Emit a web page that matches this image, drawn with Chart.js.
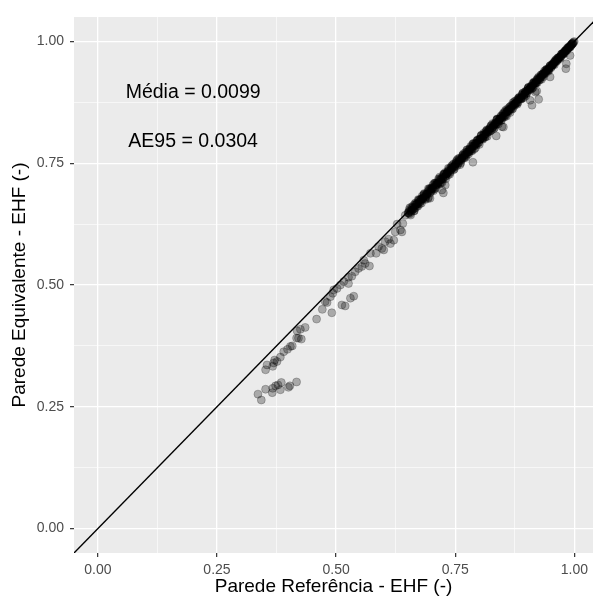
<!DOCTYPE html>
<html>
<head>
<meta charset="utf-8">
<script src="https://cdn.jsdelivr.net/npm/chart.js@4.4.1/dist/chart.umd.min.js"></script>
<style>
  html, body { margin: 0; padding: 0; background: #ffffff; overflow: hidden; }
  #wrap { width: 593px; height: 601px; }
</style>
</head>
<body>
<div id="wrap"><canvas id="c" width="593" height="601"></canvas></div>
<script>
// ---- Data ----
const lowRef = [0.336,0.343,0.352,0.366,0.367,0.373,0.378,0.383,0.385,0.400,0.403,0.417];
const lowEq  = [0.276,0.264,0.286,0.279,0.288,0.293,0.295,0.285,0.300,0.290,0.293,0.301];

const upperRef = [0.352,0.355,0.367,0.369,0.371,0.376,0.383,0.390,0.398,0.404,0.408,0.417,0.421,0.427,0.418,0.425];
const upperEq  = [0.326,0.336,0.333,0.340,0.346,0.343,0.352,0.363,0.368,0.374,0.375,0.391,0.391,0.389,0.406,0.409];

const midRef = [0.435,0.459,0.471,0.477,0.481,0.491,0.488,0.493,0.495,0.502,
                0.512,0.519,0.530,0.537,0.509,0.516,0.526,0.526,0.533,0.540,
                0.547,0.554,0.558,0.561,0.570,0.572,0.584,0.589,0.596,0.600,
                0.603,0.610,0.614,0.621,0.624,0.635,0.638,0.628,0.640,0.645,
                0.652];
const midEq  = [0.413,0.430,0.450,0.466,0.464,0.443,0.476,0.483,0.490,0.493,
                0.459,0.457,0.473,0.477,0.500,0.507,0.503,0.516,0.518,0.527,
                0.534,0.538,0.551,0.544,0.539,0.565,0.565,0.579,0.575,0.572,
                0.589,0.594,0.585,0.592,0.609,0.613,0.609,0.625,0.626,0.643,
                0.647];

const band1Ref = [0.652,0.655,0.658,0.661,0.664,0.667,0.670,0.673,0.676,0.679,
                  0.682,0.685,0.688,0.691,0.694,0.697,0.700,0.703,0.706,0.709,
                  0.712,0.715,0.718,0.721,0.724,0.727,0.730,0.733,0.736,0.739,
                  0.742,0.745,0.748,0.751,0.754,0.757,0.760,0.763,0.766,0.769,
                  0.772,0.775,0.778,0.781,0.784,0.787,0.790,0.793,0.796,0.799,
                  0.802,0.805,0.808,0.811,0.814,0.817,0.820,0.823,0.826,0.829,
                  0.832,0.835,0.838,0.841,0.844,0.847,0.850,0.853,0.856,0.859,
                  0.862,0.865,0.868,0.871,0.874,0.877,0.880,0.883,0.886,0.889,
                  0.892,0.895,0.898,0.901,0.904,0.907,0.910,0.913,0.916,0.919,
                  0.922,0.925,0.928,0.931,0.934,0.937,0.940,0.943,0.946,0.949,
                  0.952,0.955,0.958,0.961,0.964,0.967,0.970,0.973,0.976,0.979,
                  0.982,0.985,0.988,0.991,0.994,0.996,0.998];
const band1Eq  = [0.648,0.646,0.660,0.655,0.652,0.665,0.662,0.674,0.671,0.668,
                  0.679,0.688,0.681,0.687,0.680,0.696,0.694,0.705,0.697,0.706,
                  0.707,0.718,0.708,0.719,0.717,0.728,0.718,0.729,0.735,0.731,
                  0.744,0.740,0.738,0.749,0.757,0.751,0.747,0.760,0.767,0.761,
                  0.768,0.777,0.769,0.779,0.778,0.790,0.779,0.789,0.796,0.792,
                  0.799,0.807,0.799,0.806,0.815,0.805,0.817,0.816,0.828,0.824,
                  0.822,0.833,0.841,0.835,0.841,0.838,0.851,0.849,0.848,0.861,
                  0.857,0.854,0.866,0.874,0.868,0.874,0.871,0.884,0.882,0.882,
                  0.894,0.890,0.888,0.899,0.906,0.901,0.907,0.905,0.917,0.915,
                  0.915,0.927,0.925,0.922,0.933,0.939,0.935,0.941,0.939,0.950,
                  0.948,0.953,0.952,0.962,0.961,0.966,0.965,0.974,0.974,0.975,
                  0.982,0.983,0.987,0.988,0.994,0.995,0.998];

const band2Ref = [0.6535,0.6565,0.6595,0.6625,0.6655,0.6685,0.6715,0.6745,0.6775,0.6805,
                  0.6835,0.6865,0.6895,0.6925,0.6955,0.6985,0.7015,0.7045,0.7075,0.7105,
                  0.7135,0.7165,0.7195,0.7225,0.7255,0.7285,0.7315,0.7345,0.7375,0.7405,
                  0.7435,0.7465,0.7495,0.7525,0.7555,0.7585,0.7615,0.7645,0.7675,0.7705,
                  0.7735,0.7765,0.7795,0.7825,0.7855,0.7885,0.7915,0.7945,0.7975,0.8005,
                  0.8035,0.8065,0.8095,0.8125,0.8155,0.8185,0.8215,0.8245,0.8275,0.8305,
                  0.8335,0.8365,0.8395,0.8425,0.8455,0.8485,0.8515,0.8545,0.8575,0.8605,
                  0.8635,0.8665,0.8695,0.8725,0.8755,0.8785,0.8815,0.8845,0.8875,0.8905,
                  0.8935,0.8965,0.8995,0.9025,0.9055,0.9085,0.9115,0.9145,0.9175,0.9205,
                  0.9235,0.9265,0.9295,0.9325,0.9355,0.9385,0.9415,0.9445,0.9475,0.9505,
                  0.9535,0.9565,0.9595,0.9625,0.9655,0.9685,0.9715,0.9745,0.9775,0.9805,
                  0.9835,0.9865,0.9895,0.9925,0.9955];
const band2Eq  = [0.6515,0.6435,0.6545,0.6635,0.6575,0.6655,0.6615,0.6735,0.6715,0.6825,
                  0.6795,0.6775,0.6875,0.6775,0.6965,0.6915,0.6985,0.6935,0.7095,0.7055,
                  0.7055,0.7155,0.7155,0.7105,0.7275,0.7225,0.7285,0.7255,0.7385,0.7355,
                  0.7415,0.7365,0.7455,0.7545,0.7485,0.7575,0.7505,0.7595,0.7695,0.7675,
                  0.7655,0.7745,0.7735,0.7845,0.7755,0.7845,0.7905,0.7875,0.7985,0.7885,
                  0.8005,0.8005,0.8115,0.8035,0.8115,0.8175,0.8145,0.8265,0.8225,0.8205,
                  0.8315,0.8305,0.8405,0.8385,0.8375,0.8465,0.8535,0.8485,0.8465,0.8575,
                  0.8645,0.8615,0.8615,0.8705,0.8775,0.8745,0.8745,0.8835,0.8825,0.8915,
                  0.8845,0.8935,0.8935,0.9035,0.9015,0.9065,0.9045,0.9155,0.9145,0.9155,
                  0.9225,0.9205,0.9305,0.9295,0.9275,0.9365,0.9425,0.9405,0.9455,0.9455,
                  0.9535,0.9535,0.9585,0.9585,0.9665,0.9665,0.9685,0.9745,0.9755,0.9795,
                  0.9805,0.9865,0.9885,0.9905,0.9955];

const band3Ref = [0.6545,0.6575,0.6605,0.6635,0.6665,0.6695,0.6725,0.6755,0.6785,0.6815,
                  0.6845,0.6875,0.6905,0.6935,0.6965,0.6995,0.7025,0.7055,0.7085,0.7115,
                  0.7145,0.7175,0.7205,0.7235,0.7265,0.7295,0.7325,0.7355,0.7385,0.7415,
                  0.7445,0.7475,0.7505,0.7535,0.7565,0.7595,0.7625,0.7655,0.7685,0.7715,
                  0.7745,0.7775,0.7805,0.7835,0.7865,0.7895,0.7925,0.7955,0.7985,0.8015,
                  0.8045,0.8075,0.8105,0.8135,0.8165,0.8195,0.8225,0.8255,0.8285,0.8315,
                  0.8345,0.8375,0.8405,0.8435,0.8465,0.8495,0.8525,0.8555,0.8585,0.8615,
                  0.8645,0.8675,0.8705,0.8735,0.8765,0.8795,0.8825,0.8855,0.8885,0.8915,
                  0.8945,0.8975,0.9005,0.9035,0.9065,0.9095,0.9125,0.9155,0.9185,0.9215,
                  0.9245,0.9275,0.9305,0.9335,0.9365,0.9395,0.9425,0.9455,0.9485,0.9515,
                  0.9545,0.9575,0.9605,0.9635,0.9665,0.9695,0.9725,0.9755,0.9785,0.9815,
                  0.9845,0.9875,0.9905,0.9935,0.9965,0.9995];
const band3Eq  = [0.6585,0.6505,0.6585,0.6525,0.6675,0.6645,0.6755,0.6665,0.6755,0.6755,
                  0.6865,0.6755,0.6865,0.6975,0.6885,0.6985,0.6965,0.7085,0.6985,0.7095,
                  0.7095,0.7215,0.7115,0.7205,0.7275,0.7225,0.7305,0.7395,0.7275,0.7375,
                  0.7465,0.7415,0.7495,0.7445,0.7595,0.7555,0.7555,0.7665,0.7655,0.7615,
                  0.7775,0.7725,0.7785,0.7755,0.7885,0.7855,0.7815,0.7965,0.7925,0.7985,
                  0.8075,0.8005,0.8085,0.8045,0.8185,0.8145,0.8215,0.8175,0.8315,0.8275,
                  0.8285,0.8395,0.8305,0.8405,0.8475,0.8445,0.8445,0.8585,0.8565,0.8555,
                  0.8655,0.8635,0.8615,0.8755,0.8735,0.8735,0.8835,0.8835,0.8815,0.8935,
                  0.8905,0.8965,0.8945,0.9055,0.9035,0.9015,0.9135,0.9135,0.9135,0.9225,
                  0.9215,0.9215,0.9315,0.9315,0.9325,0.9405,0.9415,0.9405,0.9495,0.9495,
                  0.9515,0.9575,0.9585,0.9645,0.9635,0.9685,0.9735,0.9735,0.9785,0.9805,
                  0.9855,0.9865,0.9905,0.9925,0.9965,0.9995];

const band4Ref = [0.651,0.654,0.657,0.660,0.663,0.666,0.669,0.672,0.675,0.678,
                  0.681,0.684,0.687,0.690,0.693,0.696,0.699,0.702,0.705,0.708,
                  0.711,0.714,0.717,0.720,0.723,0.726,0.729,0.732,0.735,0.738,
                  0.741,0.744,0.747,0.750,0.753,0.756,0.759,0.762,0.765,0.768,
                  0.771,0.774,0.777,0.780,0.783,0.786,0.789,0.792,0.795,0.798,
                  0.801,0.804,0.807,0.810,0.813,0.816,0.819,0.822,0.825,0.828,
                  0.831,0.834,0.837,0.840,0.843,0.846,0.849,0.852,0.855,0.858,
                  0.861,0.864,0.867,0.870,0.873,0.876,0.879,0.882,0.885,0.888,
                  0.891,0.894,0.897,0.900,0.903,0.906,0.909,0.912,0.915,0.918,
                  0.921,0.924,0.927,0.930,0.933,0.936,0.939,0.942,0.945,0.948,
                  0.951,0.954,0.957,0.960,0.963,0.966,0.969,0.972,0.975,0.978,
                  0.981,0.984,0.987,0.990,0.993,0.996];
const band4Eq  = [0.649,0.655,0.653,0.659,0.657,0.668,0.666,0.667,0.675,0.676,
                  0.677,0.685,0.684,0.684,0.692,0.698,0.695,0.700,0.700,0.709,
                  0.709,0.710,0.718,0.717,0.717,0.725,0.731,0.728,0.733,0.733,
                  0.741,0.741,0.749,0.745,0.752,0.753,0.760,0.758,0.763,0.762,
                  0.772,0.772,0.773,0.780,0.778,0.785,0.791,0.789,0.791,0.797,
                  0.799,0.806,0.802,0.809,0.810,0.817,0.815,0.820,0.825,0.823,
                  0.830,0.831,0.839,0.836,0.841,0.846,0.844,0.851,0.856,0.855,
                  0.859,0.860,0.868,0.869,0.870,0.871,0.879,0.880,0.886,0.884,
                  0.890,0.891,0.897,0.898,0.904,0.902,0.908,0.910,0.915,0.915,
                  0.920,0.925,0.925,0.927,0.933,0.935,0.937,0.943,0.942,0.947,
                  0.951,0.952,0.956,0.961,0.961,0.966,0.968,0.970,0.975,0.977,
                  0.981,0.983,0.988,0.989,0.993,0.995];

const outRef = [0.697,0.722,0.725,0.729,0.787,0.836,0.848,0.851,0.907,0.911,0.918,0.921,0.925,0.949,0.982,0.983,0.991];
const outEq  = [0.678,0.695,0.689,0.705,0.752,0.806,0.825,0.824,0.879,0.869,0.896,0.898,0.881,0.927,0.944,0.954,0.971];

// Identity reference line (y = x) spanning the axis range
const identityRange = [-0.05, 1.05];

// Axis ticks
const majorTicks = [0, 0.25, 0.5, 0.75, 1.0];
const majorTickLabels = ['0.00', '0.25', '0.50', '0.75', '1.00'];
const minorTicks = [0.125, 0.375, 0.625, 0.875];

// Text
const xTitle = 'Parede Referência - EHF (-)';
const yTitle = 'Parede Equivalente - EHF (-)';
const annotationTexts = ['Média = 0.0099', 'AE95 = 0.0304'];
const annotationX = [0.2, 0.2];
const annotationY = [0.9, 0.8];

// ---- Build ----
function pairs(xs, ys) {
  const n = Math.min(xs.length, ys.length);
  const out = [];
  for (let i = 0; i < n; i++) out.push({ x: xs[i], y: ys[i] });
  return out;
}
const points = [].concat(
  pairs(lowRef, lowEq), pairs(upperRef, upperEq), pairs(midRef, midEq),
  pairs(band1Ref, band1Eq), pairs(band2Ref, band2Eq), pairs(band3Ref, band3Eq),
  pairs(band4Ref, band4Eq), pairs(outRef, outEq)
);
const identityLine = identityRange.map(v => ({ x: v, y: v }));
const allTicks = majorTicks.concat(minorTicks).sort((a, b) => a - b);
const isMajor = v => majorTicks.indexOf(v) >= 0;

const FONT = '"Liberation Sans", Arial, Helvetica, sans-serif';

const panelBg = {
  id: 'panelBg',
  beforeDraw(chart) {
    const { ctx, chartArea: a } = chart;
    ctx.save();
    ctx.fillStyle = '#ebebeb';
    ctx.fillRect(a.left, a.top, a.right - a.left, a.bottom - a.top);
    ctx.restore();
  }
};
const textLabels = {
  id: 'textLabels',
  afterDatasetsDraw(chart) {
    const { ctx, scales } = chart;
    ctx.save();
    ctx.fillStyle = '#000000';
    ctx.font = '19.5px ' + FONT;
    ctx.textAlign = 'center';
    ctx.textBaseline = 'middle';
    annotationTexts.forEach((t, i) => {
      ctx.fillText(t, scales.x.getPixelForValue(annotationX[i]), scales.y.getPixelForValue(annotationY[i]) + 2.5);
    });
    ctx.restore();
  }
};

function axisCommon(titleText, titlePadding) {
  return {
    type: 'linear',
    afterBuildTicks: s => { s.ticks = allTicks.map(v => ({ value: v })); },
    ticks: {
      autoSkip: false,
      maxRotation: 0,
      color: '#4d4d4d',
      font: { family: FONT, size: 14 },
      callback: v => { const i = majorTicks.indexOf(v); return i >= 0 ? majorTickLabels[i] : ''; }
    },
    grid: {
      color: '#ffffff',
      lineWidth: c => (c.tick && isMajor(c.tick.value)) ? 1.3 : 0.6,
      tickColor: c => (c.tick && isMajor(c.tick.value)) ? '#333333' : 'rgba(0,0,0,0)',
      tickWidth: 1.2,
      tickLength: 4,
      drawTicks: true
    },
    border: { display: false },
    title: {
      display: true,
      text: titleText,
      color: '#000000',
      font: { family: FONT, size: 19 },
      padding: titlePadding
    }
  };
}

const xAxis = axisCommon(xTitle, { top: 0, bottom: 3 });
xAxis.min = -0.05; xAxis.max = 1.039;
xAxis.ticks.padding = 5;
xAxis.afterFit = s => { s.height = 48; s.paddingLeft = 0; s.paddingRight = 0; };

const yAxis = axisCommon(yTitle, { top: 8, bottom: 0 });
yAxis.min = -0.05; yAxis.max = 1.05;
yAxis.ticks.padding = 6;
yAxis.afterFit = s => { s.width = 74; s.paddingTop = 0; s.paddingBottom = 0; };

new Chart(document.getElementById('c'), {
  type: 'scatter',
  data: {
    datasets: [
      {
        type: 'line',
        data: identityLine,
        borderColor: '#000000',
        borderWidth: 1.4,
        pointRadius: 0,
        fill: false,
        order: 0
      },
      {
        type: 'scatter',
        data: points,
        backgroundColor: 'rgba(0,0,0,0.28)',
        borderColor: 'rgba(0,0,0,0.32)',
        borderWidth: 0.7,
        pointRadius: 4,
        order: 1
      }
    ]
  },
  options: {
    responsive: false,
    animation: false,
    devicePixelRatio: 1,
    layout: { autoPadding: false, padding: { top: 17, right: 0, left: 0, bottom: 0 } },
    plugins: { legend: { display: false }, tooltip: { enabled: false } },
    scales: { x: xAxis, y: yAxis }
  },
  plugins: [panelBg, textLabels]
});
</script>
</body>
</html>
